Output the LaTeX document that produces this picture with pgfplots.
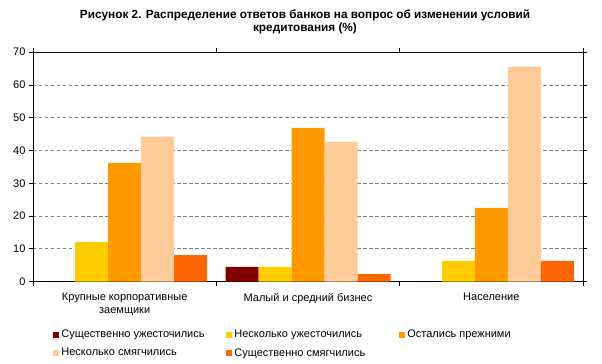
\documentclass[border=0pt]{standalone}
\usepackage{fontspec}
\setmainfont{Liberation Sans}
\usepackage{pgfplots}
\pgfplotsset{compat=1.18}
\definecolor{c1}{HTML}{800000}
\definecolor{c2}{HTML}{FFCC00}
\definecolor{c3}{HTML}{FF9900}
\definecolor{c4}{HTML}{FFCC99}
\definecolor{c5}{HTML}{FF6600}
\begin{document}
\begin{tikzpicture}[font=\fontsize{11}{13}\selectfont]
\path[use as bounding box] (-33pt,-82pt) rectangle (569pt,281.6pt);
\node[font=\bfseries\fontsize{11.8}{13}\selectfont, align=center] at (272pt,260pt)
  {Рисунок 2. Распределение ответов банков на вопрос об изменении условий\\кредитования (\%)};
\begin{axis}[
  at={(0pt,0pt)}, anchor=south west,
  scale only axis, width=550pt, height=229.4pt,
  ymin=0, ymax=70, ytick={0,10,...,70},
  xmin=-0.5, xmax=2.5,
  xtick={-0.5,0.5,1.5,2.5},
  xticklabels={{Крупные корпоративные\\заемщики},{Малый и средний бизнес},{Население}},
  x tick label as interval,
  xtick align=center, ytick align=outside,
  major tick length=4pt,
  tick style={black, line width=0.8pt},
  axis line style={line width=0.8pt},
  ymajorgrids,
  major grid style={gray, line width=0.9pt, dash pattern=on 3.5pt off 2.5pt},
  tick label style={font=\fontsize{11}{13}\selectfont},
  xticklabel style={align=center, yshift=-4pt},
  /pgf/number format/assume math mode=true,
  ybar=0pt, bar width=0.18,
  legend columns=3,
  legend style={draw=none, fill=none, at={(0.0358,-0.20)}, anchor=north west,
    inner sep=0pt, row sep=4pt, nodes={inner sep=2.5pt}},
  legend cell align=left,
  legend image code/.code={\draw[#1,draw=none] (0pt,-3pt) rectangle (6pt,3pt);},
]
\addplot[fill=c1, draw=none, bar shift=-0.36] coordinates {(0,0) (1,4.5) (2,0)};
\addplot[fill=c2, draw=none, bar shift=-0.18] coordinates {(0,12.1) (1,4.5) (2,6.3)};
\addplot[fill=c3, draw=none, bar shift=0] coordinates {(0,36.2) (1,46.9) (2,22.5)};
\addplot[fill=c4, draw=none, bar shift=0.18] coordinates {(0,44.2) (1,42.6) (2,65.6)};
\addplot[fill=c5, draw=none, bar shift=0.36] coordinates {(0,8.1) (1,2.3) (2,6.3)};
\legend{\makebox[162pt][l]{Существенно ужесточились},\makebox[162pt][l]{Несколько ужесточились},\makebox[162pt][l]{Остались прежними},\makebox[162pt][l]{Несколько смягчились},\makebox[162pt][l]{Существенно смягчились}}
\end{axis}
\end{tikzpicture}
\end{document}
